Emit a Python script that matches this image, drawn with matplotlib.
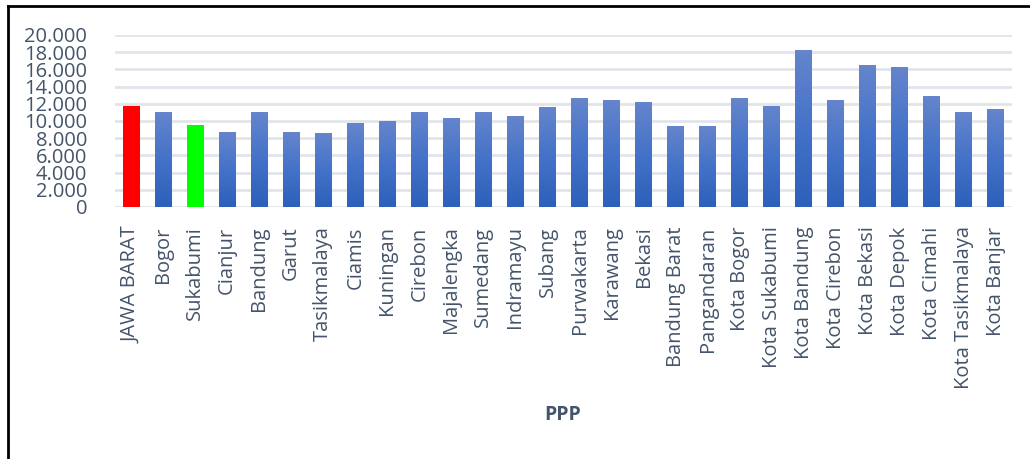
import numpy as np
import matplotlib
matplotlib.use("Agg")
import matplotlib.pyplot as plt
from matplotlib.colors import LinearSegmentedColormap
from matplotlib.lines import Line2D

regions = ["JAWA BARAT", "Bogor", "Sukabumi", "Cianjur", "Bandung", "Garut",
           "Tasikmalaya", "Ciamis", "Kuningan", "Cirebon", "Majalengka",
           "Sumedang", "Indramayu", "Subang", "Purwakarta", "Karawang",
           "Bekasi", "Bandung Barat", "Pangandaran", "Kota Bogor",
           "Kota Sukabumi", "Kota Bandung", "Kota Cirebon", "Kota Bekasi",
           "Kota Depok", "Kota Cimahi", "Kota Tasikmalaya", "Kota Banjar"]
ppp = [11700, 11100, 9500, 8700, 11000, 8700, 8550, 9750, 10000, 11100,
       10300, 11100, 10550, 11600, 12650, 12400, 12200, 9400, 9400, 12650,
       11800, 18200, 12500, 16500, 16250, 12900, 11100, 11350]
highlight = {"JAWA BARAT": "#ff0000", "Sukabumi": "#00ff00"}

txt = "#44546a"
plt.rcParams["font.family"] = ["Open Sans", "DejaVu Sans"]

fig = plt.figure(figsize=(10.30, 4.59), dpi=100)
ax = fig.add_axes([115 / 1030, 1 - 207 / 459, 897 / 1030, 172 / 459])

x = np.arange(len(regions))
w = 0.53
blue = LinearSegmentedColormap.from_list("g", ["#2c60ba", "#4472c8", "#6585cc"])
grad = np.linspace(0, 1, 256).reshape(-1, 1)

bars = ax.bar(x, ppp, width=w, color="none", zorder=3)
for b, name in zip(bars, regions):
    if name in highlight:
        b.set_facecolor(highlight[name])
        continue
    x0, h = b.get_x(), b.get_height()
    im = ax.imshow(grad, cmap=blue, aspect="auto", origin="lower",
                   extent=[x0, x0 + w, 0, h], zorder=3)
    im.set_clip_path(b)

ax.set_xlim(-0.5, len(regions) - 0.5)
ax.set_ylim(0, 20000)
ax.set_yticks(np.arange(0, 20001, 2000))
ax.set_yticklabels([f"{v:,}".replace(",", ".") for v in range(0, 20001, 2000)])
ax.set_xticks(x)
ax.set_xticklabels(regions, rotation=90)
ax.grid(axis="y", color="#e1e5ea", linewidth=2)
ax.set_axisbelow(True)
for s in ax.spines.values():
    s.set_visible(False)
ax.tick_params(length=0, colors=txt, labelsize=14.5)
ax.tick_params(axis="x", pad=14)
ax.tick_params(axis="y", pad=20)

fig.text(563 / 1030, 1 - 415 / 459, "PPP", ha="center", va="center",
         fontsize=14, fontweight="bold", color=txt)

# frame lines (left and top only)
fig.add_artist(Line2D([8 / 1030, 8 / 1030], [0, 1 - 6 / 459], color="black", lw=2))
fig.add_artist(Line2D([8 / 1030, 1], [1 - 6 / 459, 1 - 6 / 459], color="black", lw=2))

fig.savefig("out.png", dpi=100)
